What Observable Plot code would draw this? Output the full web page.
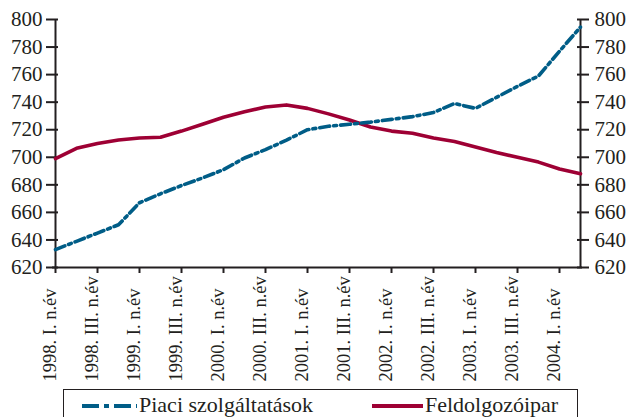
<!DOCTYPE html>
<html>
<head>
<meta charset="utf-8">
<script src="https://cdn.jsdelivr.net/npm/d3@7"></script>
<script src="https://cdn.jsdelivr.net/npm/@observablehq/plot@0.6"></script>
<style>
  html, body { margin: 0; padding: 0; background: #fff; }
  body { width: 630px; height: 417px; overflow: hidden; font-family: 'Liberation Serif', 'Times New Roman', serif; color: #231f20; }
  svg text { font-family: 'Liberation Serif', 'Times New Roman', serif; }
  #legend { position: relative; margin-left: 63px; width: 515px; height: 34px; border: 1.5px solid #231f20; box-sizing: border-box; }
  #legend .sw { position: absolute; top: 13px; }
  #legend .lb { position: absolute; top: 2px; font-size: 22px; line-height: 26px; white-space: nowrap; }
</style>
</head>
<body>
<div id="chart"></div>
<div id="legend"></div>
<script>
// Categories (quarters)
const categories = [
  "1998. I. n.év","1998. II. n.év","1998. III. n.év","1998. IV. n.év",
  "1999. I. n.év","1999. II. n.év","1999. III. n.év","1999. IV. n.év",
  "2000. I. n.év","2000. II. n.év","2000. III. n.év","2000. IV. n.év",
  "2001. I. n.év","2001. II. n.év","2001. III. n.év","2001. IV. n.év",
  "2002. I. n.év","2002. II. n.év","2002. III. n.év","2002. IV. n.év",
  "2003. I. n.év","2003. II. n.év","2003. III. n.év","2003. IV. n.év",
  "2004. I. n.év","2004. II. n.év"
];
// Tick labels shown on the x axis
const tickLabels = [
  "1998. I. n.év","1998. III. n.év","1999. I. n.év","1999. III. n.év",
  "2000. I. n.év","2000. III. n.év","2001. I. n.év","2001. III. n.év",
  "2002. I. n.év","2002. III. n.év","2003. I. n.év","2003. III. n.év",
  "2004. I. n.év"
];
// Series
const piaci = [633,639,645,651,667,673.5,679.5,685,691,699.5,705.5,712.5,720,722.5,724,725.5,727.5,729.5,732.5,739,735.5,743.5,751.5,759,777,794.5];
const feldolgozo = [699,706.5,710,712.5,714,714.5,719,724,729,733,736.5,738,735.5,731.5,727,722,719,717.5,714,711.5,707.5,703.5,700,696.5,691.5,688];
const yTicks = [620,640,660,680,700,720,740,760,780,800];
const seriesNames = ["Piaci szolgáltatások", "Feldolgozóipar"];
const colors = ["#005d87", "#9e0034"];

const table = categories.map((c, i) => ({cat: c, piaci: piaci[i], feld: feldolgozo[i]}));
const ink = "#231f20";

const chart = Plot.plot({
  width: 630,
  height: 389,
  marginLeft: 52,
  marginRight: 48,
  marginTop: 19,
  marginBottom: 122,
  style: {fontFamily: "'Liberation Serif', 'Times New Roman', serif", color: ink, background: "#fff"},
  x: {type: "point", domain: categories, padding: 0, axis: null},
  y: {domain: [620, 800], axis: null},
  marks: [
    // axis lines
    Plot.ruleY([620], {stroke: ink, strokeWidth: 2}),
    Plot.ruleX([categories[0], categories[categories.length - 1]], {stroke: ink, strokeWidth: 2}),
    // left y ticks (crossing) and labels
    Plot.axisY(yTicks, {anchor: "left", tickSize: 12, dx: 6, tickFormat: () => "", label: null, stroke: ink, strokeWidth: 2}),
    Plot.axisY(yTicks, {anchor: "left", tickSize: 0, tickPadding: 10, label: null, fontSize: 21, fill: ink}),
    // right y ticks and labels
    Plot.axisY(yTicks, {anchor: "right", tickSize: 12, dx: -6, tickFormat: () => "", label: null, stroke: ink, strokeWidth: 2}),
    Plot.axisY(yTicks, {anchor: "right", tickSize: 0, tickPadding: 12, label: null, fontSize: 21, fill: ink}),
    // x ticks
    Plot.axisX(tickLabels, {anchor: "bottom", tickSize: 6, tickFormat: () => "", label: null, stroke: ink, strokeWidth: 2}),
    // x labels, rotated, anchored at bottom
    Plot.text(tickLabels, {x: d => d, text: d => d, frameAnchor: "bottom", dy: 114, rotate: -90, textAnchor: "start", fontSize: 18.5, fill: ink}),
    // lines
    Plot.lineY(table, {x: "cat", y: "feld", stroke: colors[1], strokeWidth: 3.6}),
    Plot.lineY(table, {x: "cat", y: "piaci", stroke: colors[0], strokeWidth: 3.6, strokeDasharray: "10,4,3,4"})
  ]
});
document.getElementById("chart").appendChild(chart);

// Legend
const legend = document.getElementById("legend");
const items = [
  {name: seriesNames[0], color: colors[0], dash: "17,5,5,5", swLeft: 18, swW: 55, lbLeft: 75},
  {name: seriesNames[1], color: colors[1], dash: null, swLeft: 308, swW: 51, lbLeft: 361}
];
for (const it of items) {
  const ns = "http://www.w3.org/2000/svg";
  const svg = document.createElementNS(ns, "svg");
  svg.setAttribute("class", "sw");
  svg.setAttribute("width", it.swW);
  svg.setAttribute("height", 6);
  svg.style.left = it.swLeft + "px";
  const ln = document.createElementNS(ns, "line");
  ln.setAttribute("x1", 0); ln.setAttribute("x2", it.swW);
  ln.setAttribute("y1", 3); ln.setAttribute("y2", 3);
  ln.setAttribute("stroke", it.color);
  ln.setAttribute("stroke-width", 4);
  if (it.dash) ln.setAttribute("stroke-dasharray", it.dash);
  svg.appendChild(ln);
  legend.appendChild(svg);
  const lb = document.createElement("span");
  lb.className = "lb";
  lb.style.left = it.lbLeft + "px";
  lb.textContent = it.name;
  legend.appendChild(lb);
}
</script>
</body>
</html>
